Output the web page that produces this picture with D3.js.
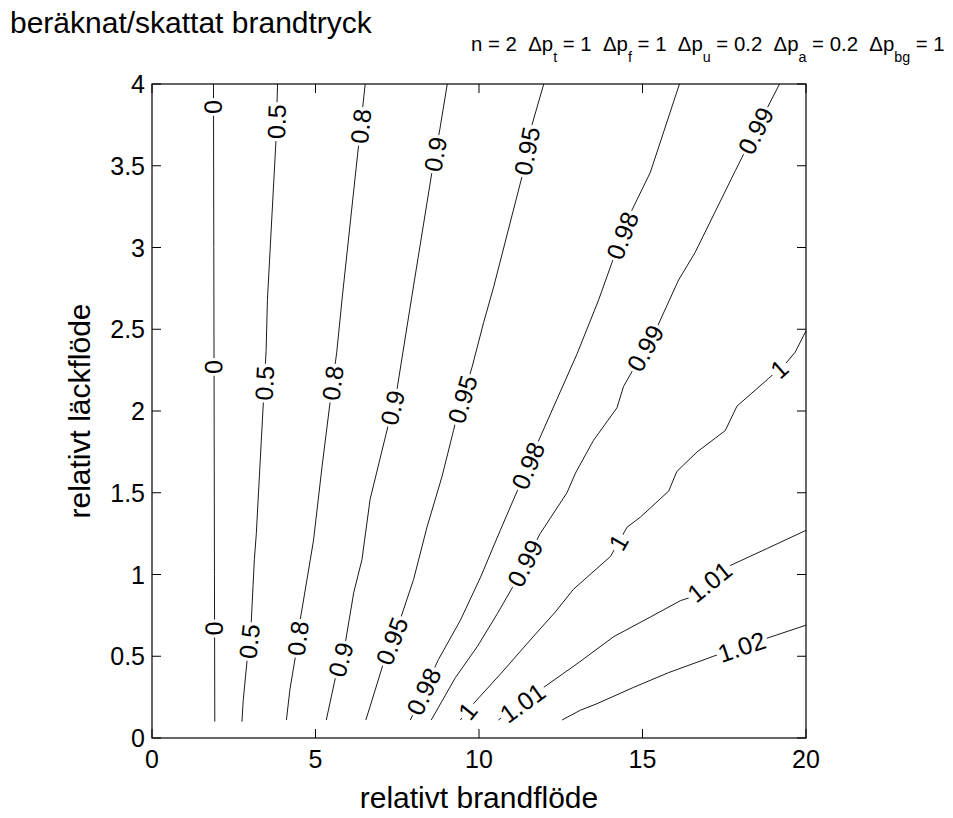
<!DOCTYPE html>
<html>
<head>
<meta charset="utf-8">
<script src="https://cdn.jsdelivr.net/npm/d3@7"></script>
<style>
  html, body { margin: 0; padding: 0; background: #fff; }
  svg { display: block; font-family: Arial, "Liberation Sans", Helvetica, sans-serif; }
</style>
</head>
<body>
<svg id="chart" width="953" height="818"></svg>
<script>
// ---- data ----
const xTicks = [0, 5, 10, 15, 20];
const yTicks = [0, 0.5, 1, 1.5, 2, 2.5, 3, 3.5, 4];
const levels = [0, 0.5, 0.8, 0.9, 0.95, 0.98, 0.99, 1, 1.01, 1.02];
const levelText = ["0", "0.5", "0.8", "0.9", "0.95", "0.98", "0.99", "1", "1.01", "1.02"];

const c000 = [[1.92,0.1],[1.91,1.0],[1.9,2.0],[1.89,3.0],[1.88,4.0]];
const c050 = [[2.75,0.10],[2.79,0.23],[2.91,0.48],[3.03,0.69],[3.13,1.09],[3.19,1.25],[3.41,2.07],[3.49,2.37],[3.53,2.68],[3.79,3.65],[3.84,4.0]];
const c080 = [[4.11,0.11],[4.22,0.30],[4.38,0.49],[4.53,0.72],[4.84,1.09],[4.94,1.21],[5.20,1.66],[5.45,2.06],[5.65,2.36],[5.81,2.68],[6.32,3.63],[6.52,4.0]];
const c090 = [[5.33,0.11],[5.61,0.37],[5.91,0.58],[6.17,0.89],[6.42,1.09],[6.67,1.46],[7.22,1.91],[7.49,2.13],[7.93,2.68],[8.56,3.46],[8.80,3.72],[9.03,4.0]];
const c095 = [[6.54,0.11],[6.82,0.29],[7.08,0.46],[7.65,0.76],[8.00,0.97],[8.41,1.29],[8.87,1.60],[9.22,1.88],[9.28,1.93],[9.79,2.27],[10.14,2.54],[10.45,2.76],[11.31,3.43],[11.62,3.75],[11.98,4.0]];
const c098 = [[7.90,0.11],[8.76,0.48],[9.43,0.72],[10.04,0.98],[10.65,1.27],[11.21,1.53],[11.87,1.84],[13.0,2.35],[13.66,2.68],[14.07,2.91],[14.68,3.23],[15.24,3.46],[16.13,4.0]];
const c099 = [[8.54,0.11],[9.28,0.37],[9.95,0.56],[10.56,0.76],[11.02,0.92],[11.87,1.25],[12.69,1.50],[12.95,1.62],[13.50,1.82],[14.22,2.02],[14.42,2.15],[15.44,2.51],[16.10,2.80],[16.61,2.97],[17.84,3.47],[18.09,3.57],[19.19,4.0]];
const c100 = [[9.43,0.11],[9.83,0.21],[10.65,0.39],[11.57,0.60],[12.33,0.77],[12.89,0.91],[14.02,1.11],[14.53,1.29],[14.93,1.35],[15.80,1.51],[16.05,1.63],[16.67,1.75],[17.53,1.88],[17.89,2.03],[18.86,2.20],[19.42,2.30],[19.67,2.36],[20.0,2.49]];
const c101 = [[10.59,0.11],[11.29,0.21],[11.98,0.31],[13.04,0.46],[14.12,0.62],[15.24,0.74],[16.16,0.84],[16.46,0.86],[17.63,1.05],[18.82,1.16],[20.0,1.27]];
const c102 = [[12.54,0.11],[13.10,0.17],[13.61,0.21],[14.73,0.31],[15.80,0.40],[17.17,0.50],[18.65,0.60],[20.0,0.69]];
const contours = [c000, c050, c080, c090, c095, c098, c099, c100, c101, c102];

const lab000 = [[1.9,0.67],[1.9,2.27],[1.88,3.86]];
const lab050 = [[2.97,0.59],[3.45,2.17],[3.80,3.77]];
const lab080 = [[4.46,0.61],[5.55,2.17],[6.43,3.74]];
const lab090 = [[5.76,0.48],[7.35,2.02],[8.68,3.57]];
const lab095 = [[7.38,0.59],[9.50,2.07],[11.46,3.59]];
const lab098 = [[8.36,0.28],[11.68,1.65],[14.43,3.07]];
const lab099 = [[11.49,1.06],[15.12,2.38],[18.60,3.70]];
const lab100 = [[9.69,0.16],[14.41,1.18],[19.21,2.25]];
const lab101 = [[11.35,0.21],[17.07,0.95]];
const lab102 = [[18.05,0.55]];
const labels = [lab000, lab050, lab080, lab090, lab095, lab098, lab099, lab100, lab101, lab102];

const titleText = "beräknat/skattat brandtryck";
const xLabel = "relativt brandflöde";
const yLabel = "relativt läckflöde";
// parameter line: [main text, subscript]
const NB = "\u00A0";
const paramParts = [["n = 2" + NB + NB + "Δp", "t"], [" = 1" + NB + NB + "Δp", "f"], [" = 1" + NB + NB + "Δp", "u"], [" = 0.2" + NB + NB + "Δp", "a"], [" = 0.2" + NB + NB + "Δp", "bg"], [" = 1", ""]];

// ---- drawing ----
const svg = d3.select("#chart");
const L = 152, R = 806, T = 84, B = 738;
const x = d3.scaleLinear().domain([0, 20]).range([L, R]);
const y = d3.scaleLinear().domain([0, 4]).range([B, T]);

const line = d3.line().x(d => x(d[0])).y(d => y(d[1]));

const gC = svg.append("g");
gC.selectAll("path").data(contours).join("path")
  .attr("d", line)
  .attr("fill", "none")
  .attr("stroke", "#000")
  .attr("stroke-width", 0.9);

// contour labels
const gL = svg.append("g");
contours.forEach((pts, i) => {
  const px = pts.map(p => [x(p[0]), y(p[1])]);
  labels[i].forEach(lp => {
    const qx = x(lp[0]), qy = y(lp[1]);
    let best = null;
    for (let k = 0; k < px.length - 1; k++) {
      const [ax, ay] = px[k], [bx, by] = px[k + 1];
      const dx = bx - ax, dy = by - ay;
      let t = ((qx - ax) * dx + (qy - ay) * dy) / (dx * dx + dy * dy);
      t = Math.max(0, Math.min(1, t));
      const cx = ax + t * dx, cy = ay + t * dy;
      const d2 = (cx - qx) ** 2 + (cy - qy) ** 2;
      if (!best || d2 < best.d2) best = {d2, cx, cy, ang: Math.atan2(dy, dx) * 180 / Math.PI};
    }
    let a = best.ang;
    while (a >= 90) a -= 180;
    while (a < -90) a += 180;
    const g = gL.append("g").attr("transform", `translate(${best.cx},${best.cy}) rotate(${a})`);
    const rect = g.append("rect").attr("fill", "#fff");
    const t = g.append("text")
      .attr("text-anchor", "middle")
      .attr("dy", "0.36em")
      .attr("font-size", 25)
      .attr("fill", "#000")
      .text(levelText[i]);
    const w = t.node().getComputedTextLength();
    rect.attr("x", -w / 2 - 2).attr("y", -10).attr("width", w + 4).attr("height", 20);
  });
});

// axes box
svg.append("rect").attr("x", L).attr("y", T).attr("width", R - L).attr("height", B - T)
  .attr("fill", "none").attr("stroke", "#000").attr("stroke-width", 1.2);

const tk = 9;
const gT = svg.append("g").attr("stroke", "#000").attr("stroke-width", 1);
xTicks.forEach(v => {
  gT.append("line").attr("x1", x(v)).attr("x2", x(v)).attr("y1", B).attr("y2", B - tk);
  gT.append("line").attr("x1", x(v)).attr("x2", x(v)).attr("y1", T).attr("y2", T + tk);
});
yTicks.forEach(v => {
  gT.append("line").attr("x1", L).attr("x2", L + tk).attr("y1", y(v)).attr("y2", y(v));
  gT.append("line").attr("x1", R).attr("x2", R - tk).attr("y1", y(v)).attr("y2", y(v));
});

svg.append("g").selectAll("text").data(xTicks).join("text")
  .attr("x", d => x(d)).attr("y", 768)
  .attr("text-anchor", "middle").attr("font-size", 25)
  .text(d => d3.format("")(d));
svg.append("g").selectAll("text").data(yTicks).join("text")
  .attr("x", L - 7).attr("y", d => y(d)).attr("dy", "0.36em")
  .attr("text-anchor", "end").attr("font-size", 25)
  .text(d => d3.format("")(d));

svg.append("text").attr("x", (L + R) / 2).attr("y", 808)
  .attr("text-anchor", "middle").attr("font-size", 30).text(xLabel);
svg.append("text").attr("transform", `translate(90,${(T + B) / 2}) rotate(-90)`)
  .attr("text-anchor", "middle").attr("font-size", 30).text(yLabel);

svg.append("text").attr("x", 10).attr("y", 33).attr("font-size", 30).text(titleText);

// parameter line, fitted to span from x=471 to x=945
function drawParams(fs) {
  svg.select("#params").remove();
  const pt = svg.append("text").attr("id", "params").attr("x", 471).attr("y", 51).attr("font-size", fs);
  paramParts.forEach(([m, s]) => {
    pt.append("tspan").attr("y", 51).text(m);
    if (s) pt.append("tspan").attr("y", 62).attr("font-size", fs * 0.7).text(s);
  });
  return pt;
}
let pt = drawParams(20);
const bw = pt.node().getBBox().width;
if (bw > 0) pt = drawParams(20 * 474 / bw);
</script>
</body>
</html>
